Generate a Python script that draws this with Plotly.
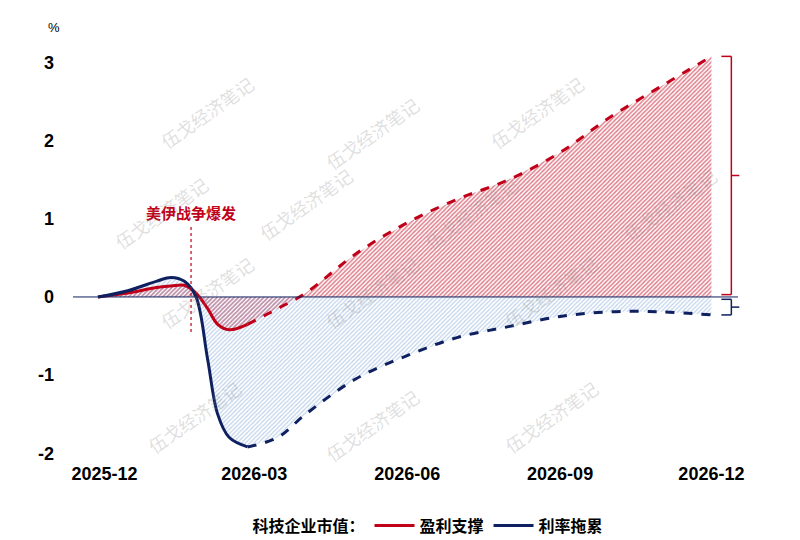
import plotly.graph_objects as go

dates = ["2025-11-27", "2025-12-15", "2026-01-01", "2026-01-10", "2026-01-18", "2026-01-25",
         "2026-02-01", "2026-02-07", "2026-02-14", "2026-02-25", "2026-03-15", "2026-04-01",
         "2026-05-01", "2026-06-01", "2026-07-01", "2026-08-01", "2026-09-01", "2026-10-01",
         "2026-11-01", "2026-12-01"]
profit = [0, 0.05, 0.12, 0.14, 0.15, 0.05, -0.15, -0.35, -0.42, -0.35, -0.15, 0.05,
          0.55, 0.95, 1.25, 1.5, 1.85, 2.3, 2.7, 3.08]
rate = [0, 0.08, 0.2, 0.25, 0.2, 0.0, -0.8, -1.5, -1.8, -1.92, -1.8, -1.5,
        -1.05, -0.75, -0.52, -0.38, -0.25, -0.19, -0.19, -0.23]
split = 9
tick_vals = ["2025-12-01", "2026-03-01", "2026-06-01", "2026-09-01", "2026-12-01"]
tick_text = ["2025-12", "2026-03", "2026-06", "2026-09", "2026-12"]
y_ticks = [-2, -1, 0, 1, 2, 3]
y_text = ["-2", "-1", "0", "1", "2", "3"]
event_date = "2026-01-22"
event_text = "美伊战争爆发"

RED = "#C00018"
BLUE = "#0E2060"
font = dict(family="Liberation Sans, Arial", size=17, color="black")

fig = go.Figure()
# hatched areas
fig.add_scatter(x=dates, y=profit, mode="none", fill="tozeroy", showlegend=False,
                fillpattern=dict(shape="/", fgcolor=RED, bgcolor="rgba(255,255,255,0)", size=3, solidity=0.5),
                hoverinfo="skip")
fig.add_scatter(x=dates, y=rate, mode="none", fill="tozeroy", showlegend=False,
                fillpattern=dict(shape="/", fgcolor="#7fa6d6", bgcolor="rgba(255,255,255,0)", size=3, solidity=0.4),
                hoverinfo="skip")
# legend title placeholder
fig.add_scatter(x=[None], y=[None], mode="lines", line=dict(color="rgba(0,0,0,0)"), name="科技企业市值：")
fig.add_scatter(x=dates[:split + 1], y=profit[:split + 1], mode="lines", name="盈利支撑",
                line=dict(color=RED, width=3, shape="spline"))
fig.add_scatter(x=dates[split:], y=profit[split:], mode="lines", showlegend=False,
                line=dict(color=RED, width=3, dash="dash", shape="spline"))
fig.add_scatter(x=dates[:split + 1], y=rate[:split + 1], mode="lines", name="利率拖累",
                line=dict(color=BLUE, width=3, shape="spline"))
fig.add_scatter(x=dates[split:], y=rate[split:], mode="lines", showlegend=False,
                line=dict(color=BLUE, width=3, dash="dash", shape="spline"))

# zero line
fig.add_shape(type="line", xref="paper", x0=0, x1=1, y0=0, y1=0, line=dict(color=BLUE, width=1))
# event line
fig.add_shape(type="line", x0=event_date, x1=event_date, y0=-0.45, y1=0.9,
              line=dict(color=RED, width=1.2, dash="dot"))
fig.add_annotation(x=event_date, y=0.92, text=event_text, showarrow=False, yanchor="bottom",
                   font=dict(family="Noto Sans CJK SC", size=15, color=RED, weight="bold"))
# brackets
def bracket(y0, y1, color):
    xa, xb = 0.975, 0.99
    ym = (y0 + y1) / 2
    fig.add_shape(type="line", xref="paper", x0=xa, x1=xb, y0=y0, y1=y0, line=dict(color=color, width=1.5))
    fig.add_shape(type="line", xref="paper", x0=xa, x1=xb, y0=y1, y1=y1, line=dict(color=color, width=1.5))
    fig.add_shape(type="line", xref="paper", x0=xb, x1=xb, y0=y0, y1=y1, line=dict(color=color, width=1.5))
    fig.add_shape(type="line", xref="paper", x0=xb, x1=xb + 0.012, y0=ym, y1=ym, line=dict(color=color, width=1.5))
bracket(profit[-1], 0.03, RED)
bracket(-0.03, rate[-1], BLUE)

# watermark
for wx, wy in [(0.12, 0.95), (0.45, 0.9), (0.78, 0.95), (0.05, 0.6), (0.35, 0.62), (0.68, 0.6),
               (0.98, 0.62), (0.12, 0.3), (0.45, 0.3), (0.8, 0.3), (0.1, 0.0), (0.45, -0.02), (0.8, 0.0)]:
    fig.add_annotation(xref="paper", yref="paper", x=wx, y=wy, text="伍戈经济笔记", showarrow=False,
                       textangle=-35, font=dict(family="Noto Sans CJK SC", size=18, color="rgba(140,140,140,0.28)"))

fig.add_annotation(xref="paper", yref="paper", x=-0.04, y=1.07, text="%", showarrow=False,
                   font=dict(family="Liberation Sans", size=13, color="black"))

fig.update_xaxes(range=["2025-11-12", "2026-12-17"], tickvals=tick_vals, ticktext=tick_text,
                 showgrid=False, zeroline=False, showline=False, ticks="", automargin=False,
                 tickfont=dict(family="Liberation Sans", size=18, color="black", weight="bold"))
fig.update_yaxes(range=[-2.1, 3.2], tickvals=y_ticks, ticktext=y_text, showgrid=False, zeroline=False,
                 showline=False, ticks="", ticklabelstandoff=18, automargin=False,
                 tickfont=dict(family="Liberation Sans", size=18, color="black", weight="bold"))
fig.update_layout(width=800, height=540, plot_bgcolor="white", paper_bgcolor="white",
                  margin=dict(l=65, r=70, t=39, b=87, autoexpand=False), font=font,
                  legend=dict(orientation="h", x=0.5, xanchor="center", y=-0.115, yanchor="top",
                              font=dict(family="Noto Sans CJK SC", size=16, color="black", weight="bold"),
                              itemwidth=40, tracegroupgap=0))
fig.write_html("out.html")
